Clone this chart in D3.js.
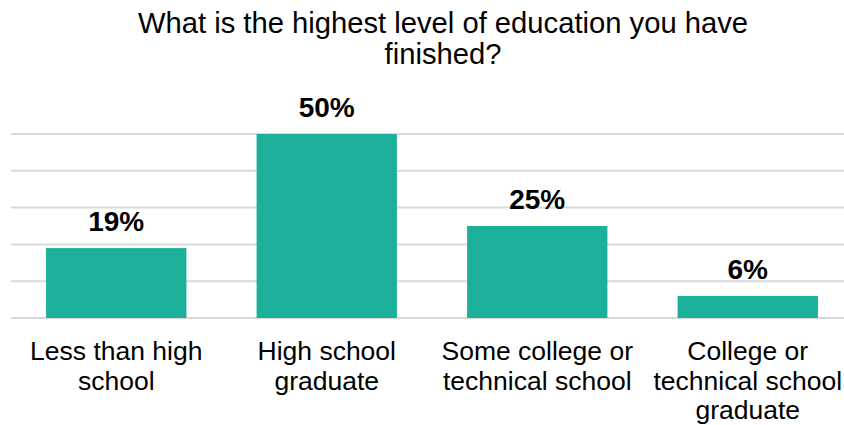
<!DOCTYPE html>
<html>
<head>
<meta charset="utf-8">
<script src="https://cdn.jsdelivr.net/npm/d3@7"></script>
<style>
  html, body { margin: 0; padding: 0; background: #fff; }
  svg { display: block; }
  text { font-family: "Liberation Sans", Arial, sans-serif; fill: #000; }
</style>
</head>
<body>
<svg id="chart" width="844" height="425"></svg>
<script>
// Survey responses: highest level of education finished
const categories = [
  ["Less than high", "school"],
  ["High school", "graduate"],
  ["Some college or", "technical school"],
  ["College or", "technical school", "graduate"]
];
const values = [19, 50, 25, 6];
const gridTicks = [0, 10, 20, 30, 40, 50];
const titleLines = ["What is the highest level of education you have", "finished?"];

const svg = d3.select("#chart");
const keys = categories.map(c => c.join(" "));

const x = d3.scaleBand()
  .domain(keys)
  .range([11, 853])
  .paddingInner(1 / 3)
  .paddingOuter(1 / 6);

const y = d3.scaleLinear()
  .domain([0, 50])
  .range([318, 134]);

// Title
svg.append("text")
  .attr("x", 443)
  .attr("y", 33)
  .attr("text-anchor", "middle")
  .style("font-size", "29.2px")
  .selectAll("tspan")
  .data(titleLines)
  .join("tspan")
  .attr("x", 443)
  .attr("dy", (d, i) => i === 0 ? 0 : 30.5)
  .text(d => d);

// Horizontal gridlines
svg.append("g")
  .selectAll("line")
  .data(gridTicks)
  .join("line")
  .attr("x1", 11)
  .attr("x2", 853)
  .attr("y1", d => y(d))
  .attr("y2", d => y(d))
  .attr("stroke", "#d9d9d9")
  .attr("stroke-width", 2);

// Bars
svg.append("g")
  .selectAll("rect")
  .data(values)
  .join("rect")
  .attr("x", (d, i) => x(keys[i]))
  .attr("width", x.bandwidth())
  .attr("y", d => y(d))
  .attr("height", d => y(0) - y(d))
  .attr("fill", "#1cb09a");

// Value labels
svg.append("g")
  .selectAll("text")
  .data(values)
  .join("text")
  .attr("x", (d, i) => x(keys[i]) + x.bandwidth() / 2)
  .attr("y", d => y(d) - 17)
  .attr("text-anchor", "middle")
  .style("font-size", "28px")
  .style("font-weight", "bold")
  .text(d => d + "%");

// Category labels
const catG = svg.append("g")
  .selectAll("text")
  .data(categories)
  .join("text")
  .attr("text-anchor", "middle")
  .attr("y", 360)
  .style("font-size", "26.5px");

catG.each(function(lines, i) {
  const cx = x(keys[i]) + x.bandwidth() / 2;
  d3.select(this).selectAll("tspan")
    .data(lines)
    .join("tspan")
    .attr("x", cx)
    .attr("dy", (d, j) => j === 0 ? 0 : 29.5)
    .text(d => d);
});
</script>
</body>
</html>
